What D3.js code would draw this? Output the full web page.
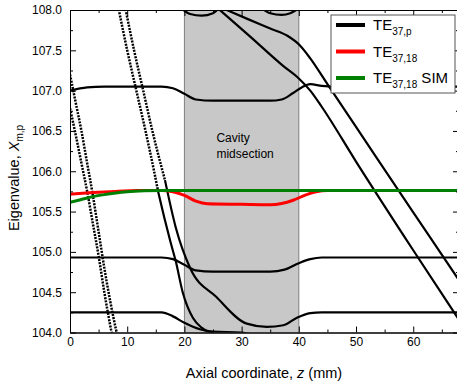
<!DOCTYPE html>
<html>
<head>
<meta charset="utf-8">
<script src="https://cdn.jsdelivr.net/npm/d3@7"></script>
<style>
  body { margin: 0; background: #fff; }
  svg { font-family: "Liberation Sans", Arial, sans-serif; }
  .axis path, .axis line { stroke: #000; stroke-width: 1; }
  .axis text { font-size: 12px; fill: #000; }
</style>
</head>
<body>
<script>
// ---- data (z in mm, eigenvalue) ----
var xTicks = [0, 10, 20, 30, 40, 50, 60];
var yTicks = [104.0, 104.5, 105.0, 105.5, 106.0, 106.5, 107.0, 107.5, 108.0];
var cavity = [20, 40];

var greenSim = [[0,105.615],[2,105.65],[4,105.685],[6,105.71],[8,105.73],[10,105.745],[13,105.757],[16,105.762],[68,105.762]];
var redMode = [[0,105.715],[4,105.735],[8,105.75],[12,105.76],[16,105.762],[18,105.745],[20,105.7],[22,105.63],[24,105.597],[30,105.59],[35,105.585],[37,105.6],[39,105.64],[41,105.7],[43,105.745],[45,105.762],[68,105.762]];

var blackModes = [
  [[0,104.93],[16,104.93],[18,104.91],[20,104.84],[22,104.77],[25,104.755],[35,104.755],[37.5,104.78],[40,104.86],[42,104.91],[44,104.93],[68,104.93]],
  [[0,104.25],[16,104.25],[18,104.2],[20,104.12],[22.7,104.04],[25,104.01],[30,104.0],[32,103.97]],
  [[15.4,105.75],[16.5,105.42],[17.5,105.14],[18.5,104.88],[19.7,104.5],[21.5,104.18],[23,104.06],[24.5,104.0],[26,103.96]],
  [[16.6,105.89],[18.5,105.3],[21,104.8],[25.6,104.44],[30.9,104.11],[34.4,104.07],[37.3,104.09],[39.6,104.18],[42,104.24],[44,104.25],[68,104.25]],
  [[0,107.0],[3,107.04],[6,107.05],[16,107.05],[18,107.03],[20,106.96],[22,106.89],[25,106.875],[35,106.875],[37,106.89],[39,106.97],[40.5,107.04],[42,107.08],[44,107.06],[46,107.05],[68,107.05]],
  [[26.2,108],[31.5,107.67],[37.2,107.31],[40,107.15],[42,107.0],[44,106.8],[50,106.12],[60,105.02],[67.6,104.2],[69,104.05]],
  [[27.4,108],[31,107.89],[35,107.77],[38,107.68],[40.2,107.56],[42,107.4],[45,107.08],[50,106.55],[60,105.49],[67.6,104.69],[69,104.54]],
  [[33.5,108.02],[35,107.96],[37,107.94],[38.5,107.96],[40,108.02]],
  [[19.5,108.02],[21,107.95],[23,107.93],[25,107.96],[26,108.02]]
];

// dotted parts of the steep modes
var dottedModes = [
  [[0,106.78],[1,106.45],[2,106.1],[3,105.75],[4,105.35],[5,104.95],[6,104.5],[7,104.1],[7.4,103.95]],
  [[0,107.2],[1,106.85],[2,106.5],[3,106.1],[4,105.7],[5,105.25],[6,104.8],[7,104.4],[8,104.05],[8.5,103.9]],
  [[8.4,108.05],[10,107.5],[11.6,107],[13.2,106.5],[14.7,106.0],[15.4,105.75]],
  [[9.6,108.05],[11.2,107.5],[12.8,107.0],[14.4,106.5],[16,106.05],[16.6,105.89]]
];

var legendItems = [
  {sub: "37,p", extra: "", color: "#000"},
  {sub: "37,18", extra: "", color: "#ff0000"},
  {sub: "37,18", extra: " SIM", color: "#008000"}
];

// ---- layout ----
var width = 457, height = 383;
var x0 = 70, x1 = 459, yTop = 10, yBot = 332.5;

var svg = d3.select("body").append("svg")
    .attr("width", width)
    .attr("height", height);

var x = d3.scaleLinear().domain([0, 68]).range([x0, x1]);
var y = d3.scaleLinear().domain([104, 108]).range([yBot, yTop]);

svg.append("clipPath").attr("id", "plot-clip")
  .append("rect")
    .attr("x", x0).attr("y", yTop)
    .attr("width", x1 - x0).attr("height", yBot - yTop);

// cavity midsection band
svg.append("rect")
    .attr("x", x(cavity[0]))
    .attr("y", yTop)
    .attr("width", x(cavity[1]) - x(cavity[0]))
    .attr("height", yBot - yTop)
    .style("fill", "#c8c8c8");
cavity.forEach(function (c) {
  svg.append("line")
      .attr("x1", x(c)).attr("x2", x(c))
      .attr("y1", yTop).attr("y2", yBot)
      .style("stroke", "#7f7f7f").style("stroke-width", 1);
});

svg.append("text")
    .attr("x", x(25.6)).attr("y", 142)
    .style("font-size", "12px")
    .text("Cavity");
svg.append("text")
    .attr("x", x(25.6)).attr("y", 158)
    .style("font-size", "12px")
    .text("midsection");

var line = d3.line()
    .x(function (d) { return x(d[0]); })
    .y(function (d) { return y(d[1]); })
    .curve(d3.curveMonotoneX);

var g = svg.append("g").attr("clip-path", "url(#plot-clip)");

g.selectAll(".dotted")
    .data(dottedModes)
    .enter().append("path")
    .attr("class", "dotted")
    .attr("d", line)
    .style("fill", "none")
    .style("stroke", "#000")
    .style("stroke-width", 2.5)
    .style("stroke-dasharray", "2,1.2");

g.selectAll(".black")
    .data(blackModes)
    .enter().append("path")
    .attr("class", "black")
    .attr("d", line)
    .style("fill", "none")
    .style("stroke", "#000")
    .style("stroke-width", 2.2);

g.append("path")
    .attr("d", line(redMode))
    .style("fill", "none")
    .style("stroke", "#ff0000")
    .style("stroke-width", 3);

g.append("path")
    .attr("d", line(greenSim))
    .style("fill", "none")
    .style("stroke", "#008000")
    .style("stroke-width", 3);

// ---- axes (ticks inside) ----
var minorX = d3.range(5, 70, 10);
var minorY = d3.range(104.25, 108, 0.5);

svg.append("g").attr("class", "axis")
    .attr("transform", "translate(0," + yBot + ")")
    .call(d3.axisBottom(x).tickValues(xTicks).tickSizeInner(-6).tickSizeOuter(0).tickPadding(5).tickFormat(d3.format("d")));
svg.append("g").attr("class", "axis")
    .attr("transform", "translate(0," + yBot + ")")
    .call(d3.axisBottom(x).tickValues(minorX).tickSizeInner(-3).tickSizeOuter(0).tickFormat(""));
svg.append("g").attr("class", "axis")
    .attr("transform", "translate(0," + yTop + ")")
    .call(d3.axisTop(x).tickValues(xTicks).tickSizeInner(-6).tickSizeOuter(0).tickFormat(""));
svg.append("g").attr("class", "axis")
    .attr("transform", "translate(0," + yTop + ")")
    .call(d3.axisTop(x).tickValues(minorX).tickSizeInner(-3).tickSizeOuter(0).tickFormat(""));

svg.append("g").attr("class", "axis")
    .attr("transform", "translate(" + x0 + ",0)")
    .call(d3.axisLeft(y).tickValues(yTicks).tickSizeInner(-6).tickSizeOuter(0).tickPadding(8).tickFormat(d3.format(".1f")));
svg.append("g").attr("class", "axis")
    .attr("transform", "translate(" + x0 + ",0)")
    .call(d3.axisLeft(y).tickValues(minorY).tickSizeInner(-3).tickSizeOuter(0).tickFormat(""));
svg.append("g").attr("class", "axis")
    .attr("transform", "translate(" + x1 + ",0)")
    .call(d3.axisRight(y).tickValues(yTicks).tickSizeInner(-6).tickSizeOuter(0).tickFormat(""));
svg.append("g").attr("class", "axis")
    .attr("transform", "translate(" + x1 + ",0)")
    .call(d3.axisRight(y).tickValues(minorY).tickSizeInner(-3).tickSizeOuter(0).tickFormat(""));

// ---- axis titles ----
var xt = svg.append("text")
    .attr("x", 264).attr("y", 378)
    .attr("text-anchor", "middle")
    .style("font-size", "14.5px");
xt.append("tspan").text("Axial coordinate, ");
xt.append("tspan").style("font-style", "italic").text("z");
xt.append("tspan").text(" (mm)");

var yt = svg.append("text")
    .attr("transform", "translate(19,178) rotate(-90)")
    .attr("text-anchor", "middle")
    .style("font-size", "14.5px");
yt.append("tspan").text("Eigenvalue, ");
yt.append("tspan").style("font-style", "italic").text("X");
yt.append("tspan").attr("dy", 4).style("font-size", "10px").text("m,p");

// ---- legend ----
var lg = svg.append("g").attr("transform", "translate(331,15)");
lg.append("rect")
    .attr("width", 124).attr("height", 78)
    .style("fill", "#fff")
    .style("stroke", "#555")
    .style("stroke-width", 1);

var item = lg.selectAll(".item")
    .data(legendItems)
    .enter().append("g")
    .attr("class", "item")
    .attr("transform", function (d, i) { return "translate(0," + (10 + i * 26.5) + ")"; });

item.append("line")
    .attr("x1", 5).attr("x2", 34)
    .style("stroke", function (d) { return d.color; })
    .style("stroke-width", 4);

var lt = item.append("text")
    .attr("x", 42).attr("y", 5)
    .style("font-size", "15px");
lt.append("tspan").text("TE");
lt.append("tspan").attr("dy", 5).style("font-size", "10px").text(function (d) { return d.sub; });
lt.append("tspan").attr("dy", -5).text(function (d) { return d.extra; });
</script>
</body>
</html>
